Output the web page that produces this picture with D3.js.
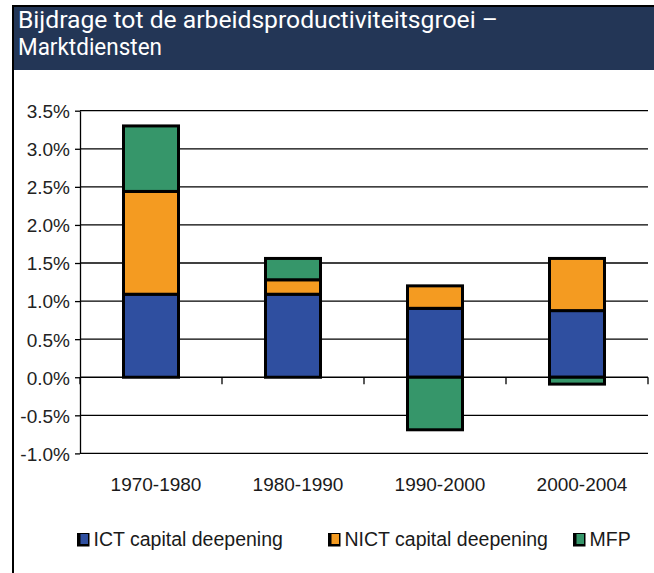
<!DOCTYPE html>
<html>
<head>
<meta charset="utf-8">
<script src="https://cdn.jsdelivr.net/npm/d3@7"></script>
<style>
  body { margin: 0; background: #fff; }
  svg { display: block; }
</style>
</head>
<body>
<svg id="chart" width="654" height="573"></svg>
<script>
// data (percent points)
const periods = ['1970-1980', '1980-1990', '1990-2000', '2000-2004'];
const seriesNames = ['ICT capital deepening', 'NICT capital deepening', 'MFP'];
const ict = [1.09, 1.09, 0.905, 0.875];
const nict = [1.35, 0.19, 0.295, 0.685];
const mfp = [0.86, 0.28, -0.69, -0.09];
const yTicks = [-1.0, -0.5, 0.0, 0.5, 1.0, 1.5, 2.0, 2.5, 3.0, 3.5];
const colors = ['#2f4fa0', '#f49b21', '#36966a'];

const svg = d3.select('#chart');

// frame + title band
svg.append('rect').attr('x', 14).attr('y', 7).attr('width', 640).attr('height', 63).attr('fill', '#233656');
svg.append('line').attr('x1', 12).attr('x2', 654).attr('y1', 6).attr('y2', 6)
    .attr('stroke', '#000').attr('stroke-width', 2);
svg.append('line').attr('x1', 13).attr('x2', 13).attr('y1', 5).attr('y2', 573)
    .attr('stroke', '#000').attr('stroke-width', 2);

const titleLines = ['Bijdrage tot de arbeidsproductiviteitsgroei \u2013', 'Marktdiensten'];
svg.append('text').attr('x', 18).attr('y', 28)
    .attr('fill', '#fff').style('font-family', 'Roboto, sans-serif').style('font-size', '24px')
    .attr('textLength', 480).attr('lengthAdjust', 'spacingAndGlyphs')
    .text(titleLines[0]);
svg.append('text').attr('x', 18).attr('y', 55)
    .attr('fill', '#fff').style('font-family', 'Roboto, sans-serif').style('font-size', '24px')
    .attr('textLength', 144).attr('lengthAdjust', 'spacingAndGlyphs')
    .text(titleLines[1]);

// scales
const x = d3.scaleBand().domain(periods).range([80, 648]).padding(0);
const y = d3.scaleLinear().domain([-1, 3.5]).range([453.4, 110.7]);

// gridlines
svg.append('g').selectAll('line').data(yTicks).join('line')
    .attr('x1', 80).attr('x2', 648)
    .attr('y1', d => y(d)).attr('y2', d => y(d))
    .attr('stroke', '#000').attr('stroke-width', 1.3);

// y axis
const yAxis = svg.append('g').attr('transform', 'translate(80,0)')
    .call(d3.axisLeft(y).tickValues(yTicks).tickSize(5).tickSizeOuter(0)
        .tickFormat(d => d.toFixed(1) + '%'));
yAxis.select('.domain').attr('stroke', '#000').attr('stroke-width', 1.3);
yAxis.selectAll('.tick line').attr('stroke', '#000').attr('stroke-width', 1.3);
yAxis.selectAll('.tick text').attr('x', -10).attr('dy', '0.36em')
    .attr('fill', '#222').style('font-family', 'Liberation Sans, Arial, sans-serif').style('font-size', '19px');

// category ticks on the zero line
const bounds = periods.map(p => x(p)).concat([x.range()[1]]);
svg.append('g').selectAll('line').data(bounds).join('line')
    .attr('x1', d => d).attr('x2', d => d)
    .attr('y1', y(0)).attr('y2', y(0) + 7)
    .attr('stroke', '#000').attr('stroke-width', 1.3);

// stacked bars
const rows = periods.map((p, i) => ({ period: p, ICT: ict[i], NICT: nict[i], MFP: mfp[i] }));
const keys = ['ICT', 'NICT', 'MFP'];
const stacked = d3.stack().keys(keys).offset(d3.stackOffsetDiverging)(rows);
const barW = 55;

svg.append('g').selectAll('g').data(stacked).join('g')
    .attr('fill', (d, i) => colors[i])
    .selectAll('rect').data(d => d).join('rect')
    .attr('x', d => x(d.data.period) + x.bandwidth() / 2 - barW / 2)
    .attr('y', d => y(Math.max(d[0], d[1])))
    .attr('width', barW)
    .attr('height', d => Math.abs(y(d[0]) - y(d[1])))
    .attr('stroke', '#000').attr('stroke-width', 3);

// x labels (sit a little right of the band centre in the original)
svg.append('g').selectAll('text').data(periods).join('text')
    .attr('x', d => x(d) + x.bandwidth() / 2 + 5).attr('y', 491)
    .attr('text-anchor', 'middle').attr('fill', '#1a1a1a')
    .style('font-family', 'Liberation Sans, Arial, sans-serif').style('font-size', '19px')
    .text(d => d);

// legend
const legendX = [77, 328, 573];
const legend = svg.append('g').selectAll('g').data(seriesNames).join('g')
    .attr('transform', (d, i) => `translate(${legendX[i]},533)`);
legend.append('rect').attr('width', 12.5).attr('height', 13.5).attr('fill', '#000');
legend.append('rect').attr('x', 3.5).attr('y', 1).attr('width', 7.5).attr('height', 10)
    .attr('fill', (d, i) => colors[i]);
legend.append('text').attr('x', 16.5).attr('y', 13)
    .attr('fill', '#1a1a1a').style('font-family', 'Liberation Sans, Arial, sans-serif').style('font-size', '19.5px')
    .text(d => d);
</script>
</body>
</html>
